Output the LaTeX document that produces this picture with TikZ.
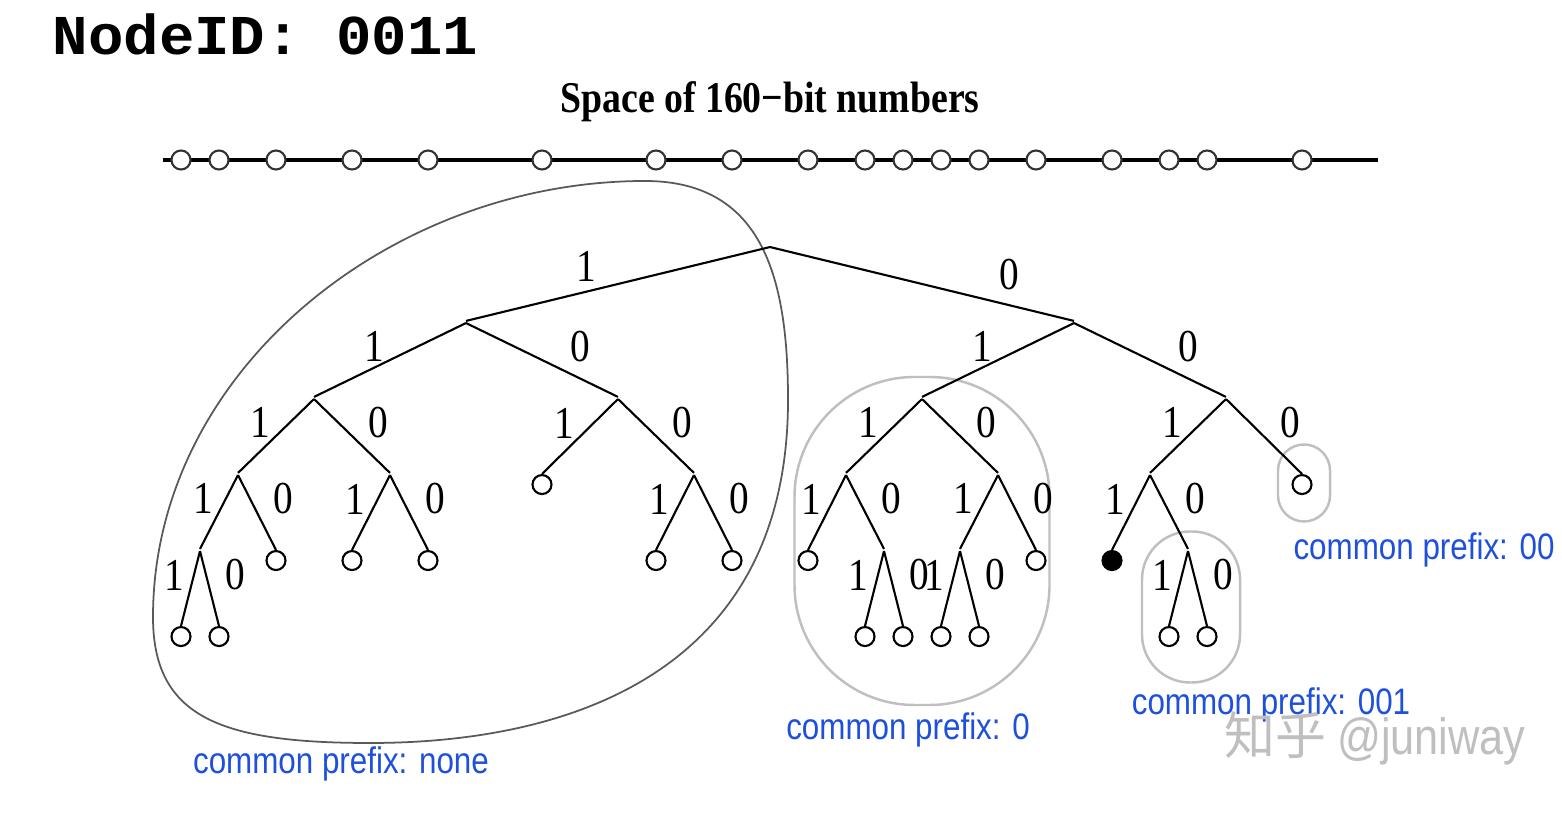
\documentclass[tikz,border=0pt]{standalone}
\usepackage{fontspec}
\setmainfont{Liberation Serif}[FakeStretch=0.86]
\setsansfont{Liberation Sans}[FakeStretch=0.85]
\setmonofont{Liberation Mono}[FakeStretch=1.05]
\newfontfamily\cjk{Noto Sans CJK SC}
\usetikzlibrary{arrows}

\definecolor{prefixblue}{RGB}{30,80,220}
\tikzset{
	bit/.style={inner sep=0pt,minimum size=0pt},
	leaf/.style={circle,draw,fill=white,inner sep=0pt,minimum size=0.19cm,anchor=north,line width=0.6pt},
	me/.style={leaf,fill=black},
	dot/.style={circle,draw=black!80,fill=white,inner sep=0pt,minimum size=0.19cm,line width=0.6pt},
	one/.style={above left,inner sep=1.5pt,yshift=-0.08cm,font=\fontsize{13}{15}\selectfont},
	zero/.style={above right,inner sep=1.5pt,xshift=0.1cm,yshift=-0.08cm,font=\fontsize{13}{15}\selectfont},
	group/.style={draw=black!25,line width=0.7pt,inner sep=0pt},
	prefixlabel/.style={text=prefixblue,font=\sffamily\fontsize{10.5}{12}\selectfont}
}

\begin{document}
\begin{tikzpicture}[level distance=0.76cm,parent anchor=south,child anchor=north,semithick,
	level 1/.style={sibling distance=6.08cm},level 2/.style={sibling distance=3.04cm},
	level 3/.style={sibling distance=1.52cm},level 4/.style={sibling distance=0.76cm},
	level 5/.style={sibling distance=0.38cm}]
	\useasboundingbox (0,0) rectangle (15.62,8.32);

	\node[anchor=base west,font=\ttfamily\bfseries\fontsize{16}{18}\selectfont] (nid) at (0.40,7.77) {NodeID: 0011};
	\node[font=\bfseries\fontsize{12.5}{14}\selectfont] (title) at (7.70,7.30) {Space of 160−bit numbers};

	\coordinate (lstart) at (1.63,6.72);
	\coordinate (lend) at (13.78,6.72);
	\draw[line width=0.9pt] (lstart) -- (lend);
	\foreach \k [count=\i] in {0,2,5,9,13,19,25,29,33,36,38,40,42,45,49,52,54,59}
		\node[dot] (s\i) at ({1.81+0.19*\k},6.72) {};

	\draw[black!65,line width=0.5pt] (6.45,6.51)
		.. controls (7.65,6.51) and (7.88,5.50) .. (7.88,4.32)
		.. controls (7.88,1.60) and (5.70,0.89) .. (3.70,0.89)
		.. controls (2.20,0.89) and (1.53,1.15) .. (1.53,2.15)
		.. controls (1.53,4.60) and (3.90,6.51) .. cycle;
	\node[group,minimum width=2.55cm,minimum height=3.28cm,rounded corners=1.2cm] (g0) at (9.22,2.91) {};
	\node[group,minimum width=0.98cm,minimum height=1.51cm,rounded corners=0.48cm] (g001) at (11.91,2.25) {};
	\node[group,minimum width=0.52cm,minimum height=0.77cm,rounded corners=0.26cm] (g00) at (13.04,3.49) {};

	\node[bit] (root) at (7.70,5.86) {}
		child {node[bit] (p1) {}
			child {node[bit] (p11) {}
				child {node[bit] (p111) {}
					child {node[bit] (p1111) {}
						child {node[leaf] (l11111) {} edge from parent node[one] {1}}
						child {node[leaf] (l11110) {} edge from parent node[zero] {0}}
						edge from parent node[one] {1}}
					child {node[leaf] (l1110) {} edge from parent node[zero] {0}}
					edge from parent node[one] {1}}
				child {node[bit] (p110) {}
					child {node[leaf] (l1101) {} edge from parent node[one] {1}}
					child {node[leaf] (l1100) {} edge from parent node[zero] {0}}
					edge from parent node[zero] {0}}
				edge from parent node[one] {1}}
			child {node[bit] (p10) {}
				child {node[leaf] (l101) {} edge from parent node[one] {1}}
				child {node[bit] (p100) {}
					child {node[leaf] (l1001) {} edge from parent node[one] {1}}
					child {node[leaf] (l1000) {} edge from parent node[zero] {0}}
					edge from parent node[zero] {0}}
				edge from parent node[zero,xshift=0.12cm] {0}}
			edge from parent node[one,pos=.55,yshift=0.08cm] {1}}
		child {node[bit] (p0) {}
			child {node[bit] (p01) {}
				child {node[bit] (p011) {}
					child {node[leaf] (l0111) {} edge from parent node[one] {1}}
					child {node[bit] (p0110) {}
						child {node[leaf] (l01101) {} edge from parent node[one] {1}}
						child {node[leaf] (l01100) {} edge from parent node[zero] {0}}
						edge from parent node[zero] {0}}
					edge from parent node[one] {1}}
				child {node[bit] (p010) {}
					child {node[bit] (p0101) {}
						child {node[leaf] (l01011) {} edge from parent node[one] {1}}
						child {node[leaf] (l01010) {} edge from parent node[zero] {0}}
						edge from parent node[one] {1}}
					child {node[leaf] (l0100) {} edge from parent node[zero] {0}}
					edge from parent node[zero] {0}}
				edge from parent node[one] {1}}
			child {node[bit] (p00) {}
				child {node[bit] (p001) {}
					child {node[me] (l0011) {} edge from parent node[one] {1}}
					child {node[bit] (p0010) {}
						child {node[leaf] (l00101) {} edge from parent node[one] {1}}
						child {node[leaf] (l00100) {} edge from parent node[zero] {0}}
						edge from parent node[zero] {0}}
					edge from parent node[one] {1}}
				child {node[leaf] (l000) {} edge from parent node[zero] {0}}
				edge from parent node[zero,xshift=0.12cm] {0}}
			edge from parent node[zero,pos=.7,xshift=0cm,yshift=0.1cm] {0}};

	\node[prefixlabel] (cpnone) at (3.41,0.68) {common prefix: none};
	\node[prefixlabel] (cp0) at (9.08,1.02) {common prefix: 0};
	\node[prefixlabel] (cp001) at (12.71,1.27) {common prefix: 001};
	\node[prefixlabel] (cp00) at (14.24,2.82) {common prefix: 00};
	\node[text=black!25,font=\fontsize{14.5}{16}\selectfont] (mark) at (13.75,0.94) {{\cjk 知乎} \sffamily @juniway};
\end{tikzpicture}
\end{document}
